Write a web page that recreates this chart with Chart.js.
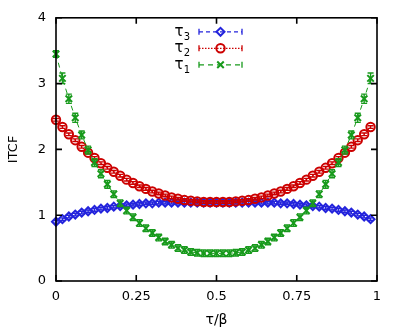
<!DOCTYPE html>
<html lang="en">
<head>
<meta charset="UTF-8">
<title>ITCF</title>
<script src="https://cdn.jsdelivr.net/npm/chart.js@4.4.0/dist/chart.umd.min.js"></script>
<style>
  body { margin: 0; background: #fff; }
  #wrap { width: 403px; height: 333px; }
</style>
</head>
<body>
<div id="wrap"><canvas id="itcf" width="403" height="333"></canvas></div>
<script>
// tau/beta sample points
const tau = [0, 0.02, 0.04, 0.06, 0.08, 0.10, 0.12, 0.14, 0.16, 0.18,
             0.20, 0.22, 0.24, 0.26, 0.28, 0.30, 0.32, 0.34, 0.36, 0.38,
             0.40, 0.42, 0.44, 0.46, 0.48, 0.50, 0.52, 0.54, 0.56, 0.58,
             0.60, 0.62, 0.64, 0.66, 0.68, 0.70, 0.72, 0.74, 0.76, 0.78,
             0.80, 0.82, 0.84, 0.86, 0.88, 0.90, 0.92, 0.94, 0.96, 0.98];

const tau1 = [3.45, 3.08, 2.77, 2.48, 2.22, 1.99, 1.80, 1.63, 1.47, 1.32,
              1.18, 1.07, 0.97, 0.88, 0.80, 0.73, 0.66, 0.60, 0.55, 0.50,
              0.47, 0.44, 0.43, 0.42, 0.42, 0.42, 0.42, 0.42, 0.43, 0.44,
              0.47, 0.50, 0.55, 0.60, 0.66, 0.73, 0.80, 0.88, 0.97, 1.07,
              1.18, 1.32, 1.47, 1.63, 1.80, 1.99, 2.22, 2.48, 2.77, 3.08];
const tau1Err = [0.05, 0.08, 0.07, 0.07, 0.06, 0.06, 0.06, 0.06, 0.06, 0.05,
                 0.05, 0.05, 0.05, 0.05, 0.05, 0.05, 0.05, 0.05, 0.05, 0.05,
                 0.05, 0.05, 0.05, 0.05, 0.05, 0.05, 0.05, 0.05, 0.05, 0.05,
                 0.05, 0.05, 0.05, 0.05, 0.05, 0.05, 0.05, 0.05, 0.05, 0.05,
                 0.05, 0.05, 0.06, 0.06, 0.06, 0.06, 0.06, 0.07, 0.07, 0.08];

const tau2 = [2.45, 2.34, 2.23, 2.14, 2.04, 1.95, 1.87, 1.79, 1.72, 1.66,
              1.60, 1.54, 1.49, 1.44, 1.40, 1.36, 1.33, 1.30, 1.27, 1.25,
              1.23, 1.22, 1.21, 1.20, 1.20, 1.20, 1.20, 1.20, 1.21, 1.22,
              1.23, 1.25, 1.27, 1.30, 1.33, 1.36, 1.40, 1.44, 1.49, 1.54,
              1.60, 1.66, 1.72, 1.79, 1.87, 1.95, 2.04, 2.14, 2.23, 2.34];
const tau2Err = [0.02, 0.02, 0.02, 0.02, 0.02, 0.02, 0.02, 0.02, 0.02, 0.02,
                 0.02, 0.02, 0.02, 0.02, 0.02, 0.02, 0.02, 0.02, 0.02, 0.02,
                 0.02, 0.02, 0.02, 0.02, 0.02, 0.02, 0.02, 0.02, 0.02, 0.02,
                 0.02, 0.02, 0.02, 0.02, 0.02, 0.02, 0.02, 0.02, 0.02, 0.02,
                 0.02, 0.02, 0.02, 0.02, 0.02, 0.02, 0.02, 0.02, 0.02, 0.02];

const tau3 = [0.90, 0.94, 0.98, 1.01, 1.04, 1.06, 1.08, 1.10, 1.11, 1.13,
              1.14, 1.15, 1.16, 1.17, 1.18, 1.18, 1.19, 1.19, 1.19, 1.19,
              1.19, 1.19, 1.19, 1.19, 1.19, 1.19, 1.19, 1.19, 1.19, 1.19,
              1.19, 1.19, 1.19, 1.19, 1.19, 1.18, 1.18, 1.17, 1.16, 1.15,
              1.14, 1.13, 1.11, 1.10, 1.08, 1.06, 1.04, 1.01, 0.98, 0.94];
const tau3Err = [0.02, 0.02, 0.02, 0.02, 0.02, 0.02, 0.02, 0.02, 0.02, 0.02,
                 0.02, 0.02, 0.02, 0.02, 0.02, 0.02, 0.02, 0.02, 0.02, 0.02,
                 0.02, 0.02, 0.02, 0.02, 0.02, 0.02, 0.02, 0.02, 0.02, 0.02,
                 0.02, 0.02, 0.02, 0.02, 0.02, 0.02, 0.02, 0.02, 0.02, 0.02,
                 0.02, 0.02, 0.02, 0.02, 0.02, 0.02, 0.02, 0.02, 0.02, 0.02];

const xTicks = [0, 0.25, 0.5, 0.75, 1];
const yTicks = [0, 1, 2, 3, 4];

const FONT = "'DejaVu Sans', sans-serif";
const BLUE = '#2424dc';
const RED = '#cc0000';
const GREEN = '#189a1c';

function pts(ys) {
    return tau.map((x, i) => ({ x: x, y: ys[i] }));
}

// legend order top to bottom
const series = [
    { sub: '3', data: tau3, err: tau3Err, color: BLUE, style: 'rectRot', radius: 4, dash: [4, 3], order: 2 },
    { sub: '2', data: tau2, err: tau2Err, color: RED, style: 'circle', radius: 4.2, dash: [1.5, 1.5], order: 1 },
    { sub: '1', data: tau1, err: tau1Err, color: GREEN, style: 'crossRot', radius: 4.6, dash: [5, 4], order: 0 }
];

// vertical error bars with caps
const errorBars = {
    id: 'errorBars',
    afterDatasetDraw(chart, args) {
        const ds = chart.data.datasets[args.index];
        const y = chart.scales.y;
        const ctx = chart.ctx;
        ctx.save();
        ctx.strokeStyle = ds.borderColor;
        ctx.lineWidth = 1.4;
        ctx.setLineDash([]);
        args.meta.data.forEach((p, i) => {
            const top = y.getPixelForValue(ds.data[i].y + ds.errors[i]);
            const bot = y.getPixelForValue(ds.data[i].y - ds.errors[i]);
            ctx.beginPath();
            ctx.moveTo(p.x, top); ctx.lineTo(p.x, bot);
            ctx.moveTo(p.x - 3, top); ctx.lineTo(p.x + 3, top);
            ctx.moveTo(p.x - 3, bot); ctx.lineTo(p.x + 3, bot);
            ctx.stroke();
        });
        ctx.restore();
    }
};

// gnuplot style box with inward ticks on all sides
const frame = {
    id: 'frame',
    afterDatasetsDraw(chart) {
        const { ctx, chartArea: a, scales } = chart;
        ctx.save();
        ctx.strokeStyle = '#000';
        ctx.lineWidth = 1.6;
        ctx.setLineDash([]);
        ctx.strokeRect(a.left, a.top, a.right - a.left, a.bottom - a.top);
        ctx.beginPath();
        xTicks.forEach(v => {
            const px = scales.x.getPixelForValue(v);
            ctx.moveTo(px, a.bottom); ctx.lineTo(px, a.bottom - 6);
            ctx.moveTo(px, a.top); ctx.lineTo(px, a.top + 6);
        });
        yTicks.forEach(v => {
            const py = scales.y.getPixelForValue(v);
            ctx.moveTo(a.left, py); ctx.lineTo(a.left + 6, py);
            ctx.moveTo(a.right, py); ctx.lineTo(a.right - 6, py);
        });
        ctx.stroke();
        ctx.restore();
    }
};

// legend: label on the left, errorbar sample on the right
const keyBox = {
    id: 'keyBox',
    afterDraw(chart) {
        const { ctx, chartArea: a } = chart;
        const tx = a.left + 134;
        const x0 = a.left + 143, x1 = a.left + 186;
        ctx.save();
        series.forEach((s, k) => {
            const y = a.top + 14 + k * 16.5;
            ctx.fillStyle = '#000';
            ctx.textBaseline = 'alphabetic';
            ctx.font = '10px ' + FONT;
            ctx.textAlign = 'right';
            const subW = ctx.measureText(s.sub).width;
            ctx.fillText(s.sub, tx, y + 8);
            ctx.font = '15px ' + FONT;
            ctx.fillText('τ', tx - subW, y + 4);

            ctx.strokeStyle = s.color;
            ctx.lineWidth = 1.3;
            ctx.setLineDash(s.dash);
            ctx.beginPath();
            ctx.moveTo(x0, y); ctx.lineTo(x1, y);
            ctx.stroke();
            ctx.setLineDash([]);
            ctx.beginPath();
            ctx.moveTo(x0, y - 3); ctx.lineTo(x0, y + 3);
            ctx.moveTo(x1, y - 3); ctx.lineTo(x1, y + 3);
            ctx.stroke();
            ctx.lineWidth = 2;
            ctx.fillStyle = 'rgba(0,0,0,0)';
            Chart.helpers.drawPoint(ctx, { pointStyle: s.style, radius: s.radius, rotation: 0, borderWidth: 2 }, (x0 + x1) / 2, y);
        });
        ctx.restore();
    }
};

const ctx = document.getElementById('itcf').getContext('2d');
const itcfChart = new Chart(ctx, {
    type: 'scatter',
    data: {
        datasets: series.map(s => ({
            label: 'τ' + s.sub,
            data: pts(s.data),
            errors: s.err,
            order: s.order,
            showLine: true,
            borderColor: s.color,
            borderWidth: 1,
            borderDash: s.dash,
            pointStyle: s.style,
            pointRadius: s.radius,
            pointBorderWidth: 2,
            pointBorderColor: s.color,
            pointBackgroundColor: 'rgba(0,0,0,0)',
            clip: false
        }))
    },
    options: {
        responsive: false,
        animation: false,
        layout: { padding: { left: 0, right: 26, top: 16, bottom: 0 } },
        plugins: {
            legend: { display: false },
            tooltip: { enabled: false }
        },
        scales: {
            x: {
                type: 'linear',
                min: 0, max: 1,
                afterBuildTicks: s => { s.ticks = xTicks.map(v => ({ value: v })); },
                afterFit: s => { s.height = 52; },
                grid: { display: false, drawTicks: false },
                border: { display: false },
                ticks: {
                    color: '#000', padding: 8, maxRotation: 0,
                    font: { family: FONT, size: 13 },
                    callback: v => String(v)
                },
                title: {
                    display: true, text: 'τ/β', color: '#000',
                    font: { family: FONT, size: 14 },
                    padding: { top: 0, bottom: 4 }
                }
            },
            y: {
                min: 0, max: 4,
                afterBuildTicks: s => { s.ticks = yTicks.map(v => ({ value: v })); },
                afterFit: s => { s.width = 56; },
                grid: { display: false, drawTicks: false },
                border: { display: false },
                ticks: {
                    color: '#000', padding: 10,
                    font: { family: FONT, size: 13 },
                    callback: v => String(v)
                },
                title: {
                    display: true, text: 'ITCF', color: '#000',
                    font: { family: FONT, size: 13 },
                    padding: { top: 6, bottom: 0 }
                }
            }
        }
    },
    plugins: [errorBars, frame, keyBox]
});
</script>
</body>
</html>
